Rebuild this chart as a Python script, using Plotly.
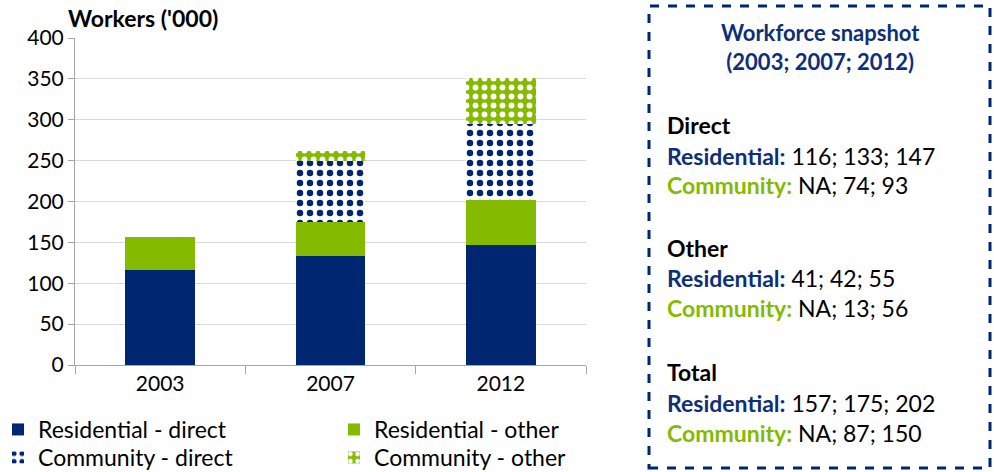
import plotly.graph_objects as go

# Data
YEARS = ["2003", "2007", "2012"]
RES_DIRECT = [116, 133, 147]
RES_OTHER = [41, 42, 55]
COMM_DIRECT = [None, 74, 93]
COMM_OTHER = [None, 13, 56]
RES_TOTAL = [157, 175, 202]
COMM_TOTAL = [None, 87, 150]

NAVY = "#002672"
GREEN = "#84BA00"
TITLE_NAVY = "#0E2F78"
FONT = "Lato"
TXT = 23

W, H = 994, 472
L, R, T, B = 75, 408, 38, 107
PW, PH = W - L - R, H - T - B


def px_x(x):
    return (x - L) / PW


def px_y(y):
    return (H - B - y) / PH


def fmt(vals):
    return "; ".join("NA" if v is None else str(v) for v in vals)


fig = go.Figure()
fig.add_bar(x=YEARS, y=RES_DIRECT, name="Residential - direct",
            marker=dict(color=NAVY, line_width=0), legend="legend")
fig.add_bar(x=YEARS, y=RES_OTHER, name="Residential - other",
            marker=dict(color=GREEN, line_width=0), legend="legend2")
fig.add_bar(x=YEARS, y=COMM_DIRECT, name="Community - direct",
            marker=dict(color="white", line_width=0,
                        pattern=dict(shape=".", fgcolor=NAVY, bgcolor="white",
                                     size=10, solidity=0.33, fgopacity=1)),
            legend="legend3")
fig.add_bar(x=YEARS, y=COMM_OTHER, name="Community - other",
            marker=dict(color=GREEN, line_width=0,
                        pattern=dict(shape=".", fgcolor="white", bgcolor=GREEN,
                                     size=9, solidity=0.33, fgopacity=1)),
            legend="legend4")

# one legend per entry so the two rows sit as tightly as in the reference
legend_common = dict(xanchor="left", yanchor="top", orientation="v",
                     font=dict(size=TXT), itemclick=False,
                     bgcolor="rgba(0,0,0,0)")
fig.update_layout(
    width=W, height=H,
    margin=dict(l=L, r=R, t=T, b=B, autoexpand=False),
    barmode="stack",
    bargap=0.59,
    showlegend=True,
    plot_bgcolor="white",
    paper_bgcolor="white",
    font=dict(family=FONT, size=20, color="black"),
    legend=dict(x=px_x(-2), y=px_y(408), **legend_common),
    legend2=dict(x=px_x(334), y=px_y(408), **legend_common),
    legend3=dict(x=px_x(-2), y=px_y(436), **legend_common),
    legend4=dict(x=px_x(334), y=px_y(436), **legend_common),
)
fig.update_xaxes(
    type="category", showline=True, linecolor="#A6A6A6", linewidth=1,
    ticks="outside", tickson="boundaries", ticklen=8, tickcolor="#A6A6A6",
    tickfont=dict(size=21), showgrid=False, automargin=False,
)
fig.update_yaxes(
    range=[0, 400], dtick=50, showline=True, linecolor="#A6A6A6", linewidth=1,
    ticks="outside", ticklen=6, tickcolor="#A6A6A6", showgrid=True,
    gridcolor="#D9D9D9", tickfont=dict(size=21), zeroline=False,
    automargin=False,
)

annotations = [
    dict(text="<b>Workers ('000)</b>", x=px_x(66), y=px_y(18),
         xanchor="left", yanchor="middle", font=dict(size=TXT)),
    dict(text="<b>Workforce snapshot<br>(2003; 2007; 2012)</b>",
         x=px_x(820), y=px_y(47), xanchor="center", yanchor="middle",
         align="center", font=dict(size=22, color=TITLE_NAVY)),
]

lines = [
    (125, "<b>Direct</b>"),
    (156, f"<b><span style='color:{TITLE_NAVY}'>Residential:</span></b> {fmt(RES_DIRECT)}"),
    (185, f"<b><span style='color:{GREEN}'>Community:</span></b> {fmt(COMM_DIRECT)}"),
    (248, "<b>Other</b>"),
    (278, f"<b><span style='color:{TITLE_NAVY}'>Residential:</span></b> {fmt(RES_OTHER)}"),
    (308, f"<b><span style='color:{GREEN}'>Community:</span></b> {fmt(COMM_OTHER)}"),
    (372, "<b>Total</b>"),
    (403, f"<b><span style='color:{TITLE_NAVY}'>Residential:</span></b> {fmt(RES_TOTAL)}"),
    (433, f"<b><span style='color:{GREEN}'>Community:</span></b> {fmt(COMM_TOTAL)}"),
]
for y, txt in lines:
    annotations.append(dict(text=txt, x=px_x(665), y=px_y(y), xanchor="left",
                            yanchor="middle", font=dict(size=TXT)))

for a in annotations:
    a.update(xref="paper", yref="paper", showarrow=False)
fig.update_layout(annotations=annotations)

fig.add_shape(type="rect", xref="paper", yref="paper",
              x0=px_x(649), x1=px_x(990), y0=px_y(468), y1=px_y(6),
              line=dict(color=NAVY, width=3, dash="dash"))

# drop the default page margin so the figure sits at the window origin
fig.write_html("out.html", config={"displayModeBar": False},
               post_script="document.body.style.margin='0px';")
